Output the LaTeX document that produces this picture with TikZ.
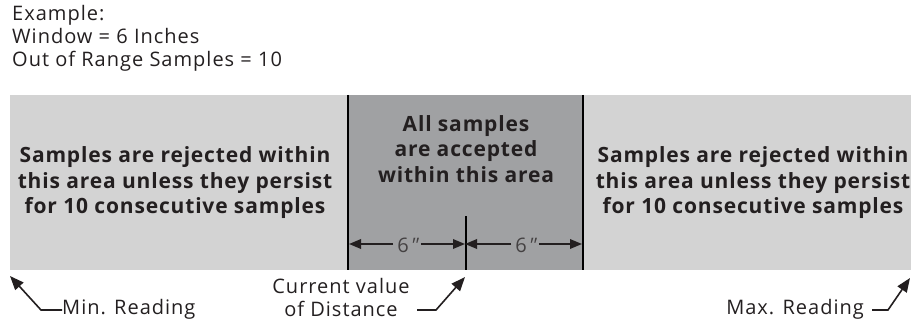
\documentclass[tikz,border=0pt]{standalone}
\usepackage{fontspec}
\setmainfont{Open Sans}
\newfontfamily\regfont[LetterSpace=5]{Open Sans}
\newfontfamily\boldfont[LetterSpace=4]{Open Sans}
\newfontfamily\slantfont[FakeSlant=0.25]{Open Sans}
\usetikzlibrary{arrows.meta}
\definecolor{lightband}{RGB}{211,211,211}
\definecolor{darkband}{RGB}{160,161,163}
\definecolor{ink}{RGB}{35,31,32}
\tikzset{
  band/.style={fill=#1, draw=none, inner sep=0pt, anchor=north west},
  boldtxt/.style={align=center, text=ink, font=\boldfont\fontsize{21}{25.5}\selectfont\bfseries},
  regtxt/.style={text=ink, font=\regfont\fontsize{20}{23}\selectfont, inner sep=0pt},
  dimtxt/.style={text=ink!85, font=\fontsize{20}{23}\selectfont, inner sep=0pt, inner xsep=4pt, fill=darkband},
  dimarrow/.style={ink, line width=1.8pt, -{Triangle[length=12pt,width=9.5pt]}},
  callout/.style={ink, line width=1.6pt, -{Triangle[length=14pt,width=11pt]}},
}
\begin{document}
\begin{tikzpicture}[x=1pt,y=-1pt]
\useasboundingbox (0,0) rectangle (911,321);
% top text
\node[regtxt, anchor=north west, align=left] (ex) at (12,5) {Example:\\Window = 6 Inches\\Out of Range Samples = 10};
% bands
\node[band=lightband, minimum width=338pt, minimum height=175pt] (lb) at (10,95) {};
\node[band=darkband, minimum width=235pt, minimum height=175pt] (mb) at (348,95) {};
\node[band=lightband, minimum width=328pt, minimum height=175pt] (rb) at (583,95) {};
\draw[black, line width=2pt] (mb.north west) -- (mb.south west);
\draw[black, line width=2pt] (mb.north east) -- (mb.south east);
% texts
\node[boldtxt] (lt) at (175,183) {Samples are rejected within\\this area unless they persist\\for 10 consecutive samples};
\node[boldtxt] (rt) at (753,183) {Samples are rejected within\\this area unless they persist\\for 10 consecutive samples};
\node[boldtxt, align=center] (mt) at (466,149) {All samples\\are accepted\\within this area};
% center tick
\coordinate (tickt) at (466,216);
\coordinate (tickb) at (466,270);
\draw[black, line width=2.5pt] (tickt) -- (tickb);
% dimension arrows
\coordinate (dl) at (349,244);
\coordinate (dc) at (465,244);
\coordinate (dr) at (582,244);
\node[dimtxt] (d1) at (407,245) {6{\slantfont″}};
\node[dimtxt] (d2) at (525,245) {6{\slantfont″}};
\draw[dimarrow] (d1.west |- dl) -- (dl);
\draw[dimarrow] (d1.east |- dl) -- (dc);
\draw[dimarrow] (d2.west |- dl) -- (dc);
\draw[dimarrow] (d2.east |- dl) -- (dr);
% callouts
\node[regtxt, anchor=west] (minr) at (62,309) {Min. Reading};
\coordinate (minb) at (41,310);
\coordinate (mina) at (10,276);
\draw[callout] (minr.west |- minb) -- (minb) -- (mina);
\node[regtxt, align=center] (cur) at (341,297) {Current value\\of Distance};
\coordinate (curs) at (417,310);
\coordinate (curb) at (436,310);
\coordinate (cura) at (465,277);
\draw[callout] (curs) -- (curb) -- (cura);
\node[regtxt, anchor=east] (maxr) at (864,309) {Max. Reading};
\coordinate (maxs) at (872,310);
\coordinate (maxb) at (888,310);
\coordinate (maxa) at (910,278);
\draw[callout] (maxs) -- (maxb) -- (maxa);
\end{tikzpicture}
\end{document}
